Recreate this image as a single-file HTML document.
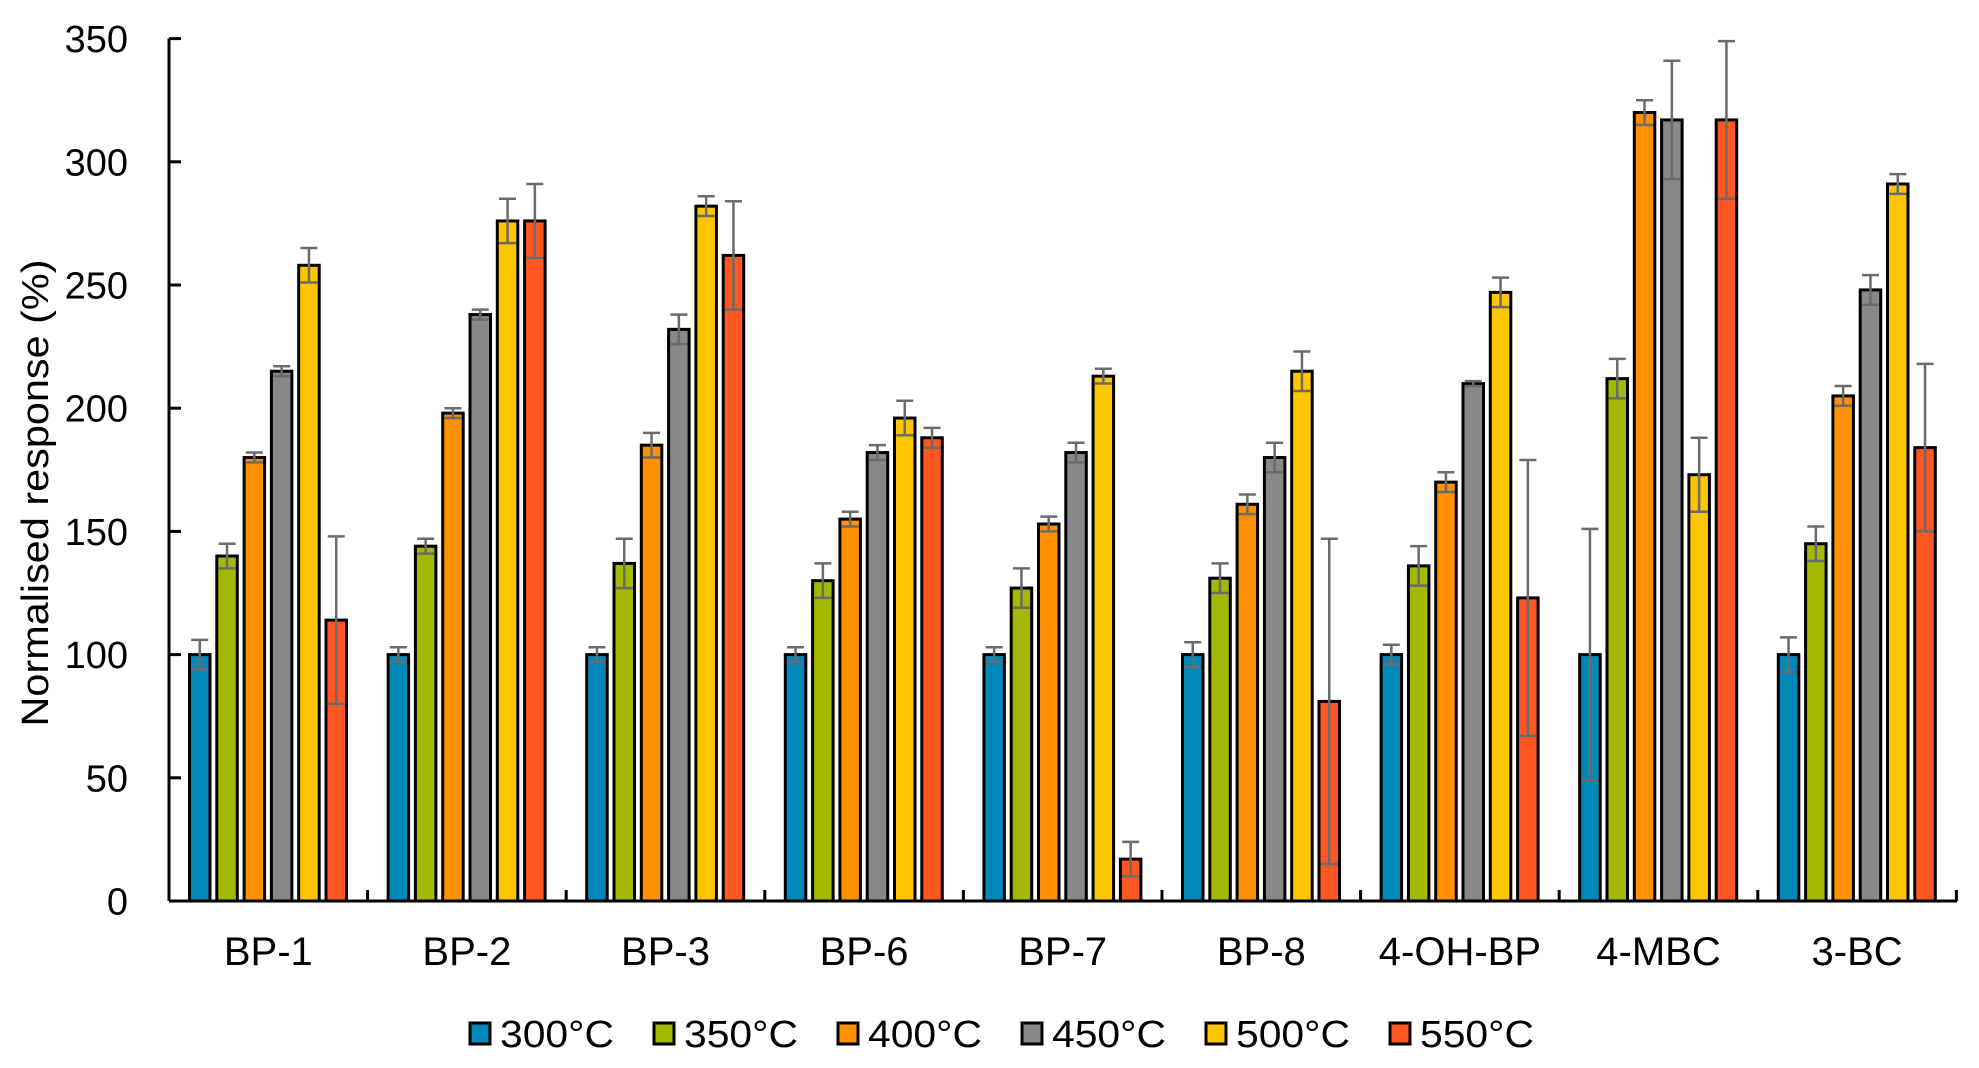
<!DOCTYPE html>
<html><head><meta charset="utf-8"><style>html,body{margin:0;padding:0;background:#fff}svg{display:block}</style></head>
<body>
<svg width="1979" height="1068" viewBox="0 0 1979 1068" xmlns="http://www.w3.org/2000/svg" font-family="Liberation Sans, Arial, sans-serif">
<g id="bars"></g>
<g id="axes" stroke="#000" stroke-width="3" fill="none">
<line x1="169" y1="38.5" x2="169" y2="901"/>
<line x1="169" y1="901" x2="1957" y2="901"/>
</g>
<g id="yt" font-size="38" text-anchor="end" fill="#000"></g>
<g id="xt" font-size="40" text-anchor="middle" fill="#000"></g>
<text transform="translate(48,493) rotate(-90)" font-size="38" text-anchor="middle" textLength="467" lengthAdjust="spacingAndGlyphs">Normalised response (%)</text>
<g id="leg" font-size="38"></g>
<script>
var ns="http://www.w3.org/2000/svg";
function el(p,t,a,txt){var e=document.createElementNS(ns,t);for(var k in a)e.setAttribute(k,a[k]);if(txt)e.textContent=txt;p.appendChild(e);return e;}
var cols=["#0088b8","#a3b800","#ff9100","#888888","#ffc600","#ff5722"];
var cats=["BP-1","BP-2","BP-3","BP-6","BP-7","BP-8","4-OH-BP","4-MBC","3-BC"];
var v=[[100,140,180,215,258,114],[100,144,198,238,276,276],[100,137,185,232,282,262],[100,130,155,182,196,188],[100,127,153,182,213,17],[100,131,161,180,215,81],[100,136,170,210,247,123],[100,212,320,317,173,317],[100,145,205,248,291,184]];
var e=[[6,5,2,2,7,34],[3,3,2,2,9,15],[3,10,5,6,4,22],[3,7,3,3,7,4],[3,8,3,4,3,7],[5,6,4,6,8,66],[4,8,4,1,6,56],[51,8,5,24,15,32],[7,7,4,6,4,34]];
var y0=901,k=2.464,gw=198.6,x0=169;
function Y(val){return y0-val*k;}
var B=document.getElementById("bars"),A=document.getElementById("axes");
for(var i=0;i<9;i++){
 var gx=x0+i*gw;
 for(var j=0;j<6;j++){
  var bx=gx+20.5+j*27.3, w=20.5, cx=bx+w/2;
  el(B,"rect",{x:bx,y:Y(v[i][j]),width:w,height:y0-Y(v[i][j]),fill:cols[j],stroke:"#000","stroke-width":3});
  var t=Y(v[i][j]+e[i][j]),b=Y(v[i][j]-e[i][j]);
  el(B,"line",{x1:cx,y1:t,x2:cx,y2:b,stroke:"#6b6b6b","stroke-width":2.5});
  el(B,"line",{x1:cx-8.5,y1:t,x2:cx+8.5,y2:t,stroke:"#6b6b6b","stroke-width":2.5});
  el(B,"line",{x1:cx-8.5,y1:b,x2:cx+8.5,y2:b,stroke:"#6b6b6b","stroke-width":2.5});
 }
 if(i>0) el(A,"line",{x1:gx,y1:y0,x2:gx,y2:y0-11});
 el(document.getElementById("xt"),"text",{x:gx+gw/2,y:965},cats[i]);
}
el(A,"line",{x1:x0+9*gw,y1:y0,x2:x0+9*gw,y2:y0-11});
for(var s=0;s<=350;s+=50){
 el(A,"line",{x1:169,y1:Y(s),x2:181,y2:Y(s)});
 el(document.getElementById("yt"),"text",{x:128,y:Y(s)+13.5},""+s);
}
var L=document.getElementById("leg"),lab=["300°C","350°C","400°C","450°C","500°C","550°C"];
for(var j=0;j<6;j++){
 var lx=470+j*184;
 el(L,"rect",{x:lx,y:1023,width:20,height:21,fill:cols[j],stroke:"#000","stroke-width":3});
 el(L,"text",{x:lx+30,y:1047,textLength:114,lengthAdjust:"spacingAndGlyphs"},lab[j]);
}
</script>
</svg>
</body></html>
